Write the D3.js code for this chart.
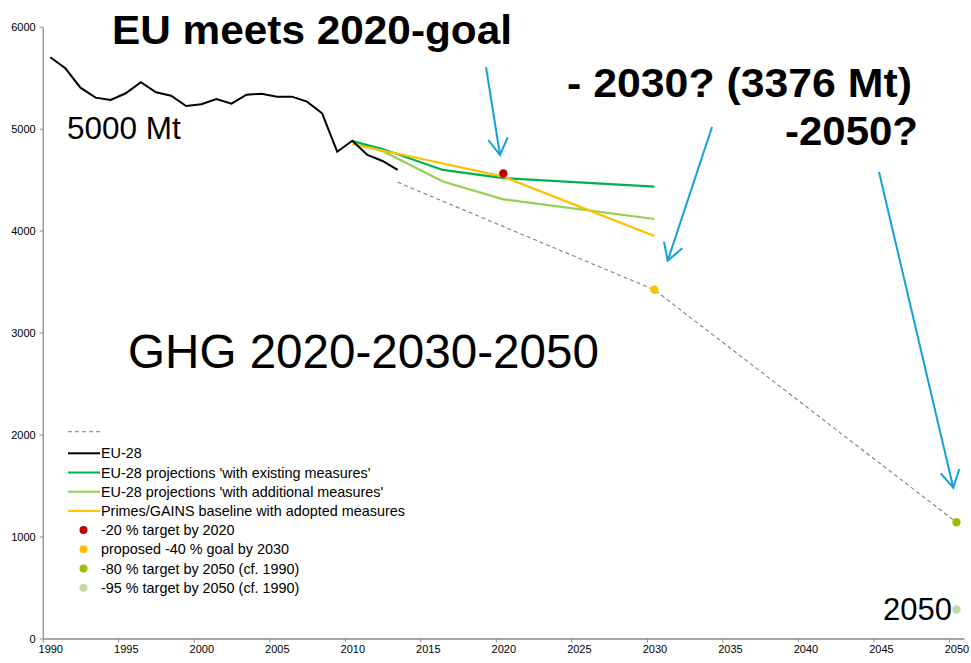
<!DOCTYPE html>
<html><head><meta charset="utf-8">
<script src="https://cdn.jsdelivr.net/npm/d3@7/dist/d3.min.js"></script>
<style>
html,body{margin:0;padding:0;background:#fff;}
svg{display:block;font-family:"Liberation Sans",Arial,sans-serif;}
</style></head>
<body>
<svg id="chart" width="971" height="663"></svg>
<script>
// ---- data ----
const histYears = [1990,1991,1992,1993,1994,1995,1996,1997,1998,1999,2000,2001,2002,2003,2004,2005,2006,2007,2008,2009,2010,2011,2012,2013];
const histValues = [5700,5592,5402,5304,5281,5347,5455,5357,5323,5222,5239,5291,5245,5333,5343,5314,5314,5265,5151,4774,4882,4742,4683,4595];

const wemYears = [2010,2012,2016,2020,2030];
const wemValues = [4879,4800,4595,4515,4431];

const wamYears = [2010,2012,2016,2020,2030];
const wamValues = [4879,4780,4482,4307,4114];

const primesYears = [2010,2015,2020,2025,2030];
const primesValues = [4849,4690,4529,4238,3947];

const pathYears = [2013,2030,2050];
const pathValues = [4474,3420,1140];

const targetYears = [2020,2030,2050,2050];
const targetValues = [4560,3420,1140,285];
const targetColors = ["#c00000","#ffc000","#99c000","#c4d9a0"];

const legendLabels = ["","EU-28","EU-28 projections 'with existing measures'","EU-28 projections 'with additional measures'","Primes/GAINS baseline with adopted measures","-20 % target by 2020","proposed -40 % goal by 2030","-80 % target by 2050 (cf. 1990)","-95 % target by 2050 (cf. 1990)"];
const legendKinds = ["dash","line","line","line","line","dot","dot","dot","dot"];
const legendColors = ["#808080","#000000","#00b050","#92d050","#ffc000","#c00000","#ffc000","#99c000","#c4d9a0"];

const xTickYears = [1990,1995,2000,2005,2010,2015,2020,2025,2030,2035,2040,2045,2050];
const yTickValues = [0,1000,2000,3000,4000,5000,6000];

// ---- scales ----
const svg = d3.select("#chart");
const x = d3.scaleLinear().domain([1990,2051]).range([42.7,964]);
const y = d3.scaleLinear().domain([0,6000]).range([638.5,26.7]);
const step = x(1991)-x(1990);
const xc = yr => x(yr+0.5);

// axes
const axisColor = "#8a8a8a";
const gx = svg.append("g").attr("transform",`translate(0,${y(0)})`)
  .call(d3.axisBottom(x).tickValues(xTickYears).tickFormat(d3.format("d")).tickSize(4).tickSizeOuter(0));
gx.select(".domain").attr("stroke",axisColor).attr("stroke-width",1.3);
gx.selectAll(".tick line").attr("stroke",axisColor);
gx.selectAll(".tick text").attr("x",step/2).attr("dy","0.71em").attr("y",7)
  .attr("font-size",11).attr("fill","#000").attr("font-family","Liberation Sans, Arial, sans-serif");

const gy = svg.append("g").attr("transform",`translate(${x(1990)},0)`)
  .call(d3.axisLeft(y).tickValues(yTickValues).tickFormat(d3.format("d")).tickSize(3).tickSizeOuter(0));
gy.select(".domain").attr("stroke",axisColor).attr("stroke-width",1.3);
gy.selectAll(".tick line").attr("stroke",axisColor);
gy.selectAll(".tick text").attr("x",-7)
  .attr("font-size",11).attr("fill","#000").attr("font-family","Liberation Sans, Arial, sans-serif");

const line = d3.line().x(d=>xc(d[0])).y(d=>y(d[1]));
const zip = (a,b)=>a.map((v,i)=>[v,b[i]]);

// dashed path
svg.append("path").datum(zip(pathYears,pathValues)).attr("d",line)
  .attr("fill","none").attr("stroke","#808080").attr("stroke-width",1.1).attr("stroke-dasharray","4,3");

svg.append("path").datum(zip(wamYears,wamValues)).attr("d",line)
  .attr("fill","none").attr("stroke","#92d050").attr("stroke-width",2.2).attr("stroke-linejoin","round");
svg.append("path").datum(zip(wemYears,wemValues)).attr("d",line)
  .attr("fill","none").attr("stroke","#00b050").attr("stroke-width",2.2).attr("stroke-linejoin","round");
svg.append("path").datum(zip(primesYears,primesValues)).attr("d",line)
  .attr("fill","none").attr("stroke","#ffc000").attr("stroke-width",2.2).attr("stroke-linejoin","round");
svg.append("path").datum(zip(histYears,histValues)).attr("d",line)
  .attr("fill","none").attr("stroke","#000").attr("stroke-width",2);

// target dots
svg.selectAll("circle.t").data(targetYears).join("circle").attr("class","t")
  .attr("cx",(d)=>xc(d)).attr("cy",(d,i)=>y(targetValues[i])).attr("r",4.2)
  .attr("fill",(d,i)=>targetColors[i]);

// legend
const lg = svg.append("g");
legendLabels.forEach((lab,i)=>{
  const ly = 431.7 + i*19.2 + (i>0?2.4:0);
  const k = legendKinds[i];
  if(k==="dash"){
    lg.append("line").attr("x1",68).attr("x2",102).attr("y1",ly).attr("y2",ly)
      .attr("stroke",legendColors[i]).attr("stroke-width",1).attr("stroke-dasharray","4,3");
  } else if(k==="line"){
    lg.append("line").attr("x1",68).attr("x2",100).attr("y1",ly).attr("y2",ly)
      .attr("stroke",legendColors[i]).attr("stroke-width",2);
  } else {
    lg.append("circle").attr("cx",83.5).attr("cy",ly).attr("r",4).attr("fill",legendColors[i]);
  }
  if(lab) lg.append("text").attr("x",101).attr("y",ly).attr("dy","0.35em")
    .attr("font-size",14.4).attr("fill","#000").text(lab);
});

// annotations
const ann = [
  {t:"EU meets 2020-goal", x:112, y:44, s:40, w:"bold", len:400},
  {t:"- 2030? (3376 Mt)", x:567, y:97, s:40, w:"bold", len:345},
  {t:"-2050?", x:785, y:145, s:40, w:"bold", len:133},
  {t:"5000 Mt", x:67, y:139, s:31.5, w:"normal", len:null},
  {t:"GHG 2020-2030-2050", x:128, y:368, s:47.6, w:"normal", len:null},
  {t:"2050", x:883, y:620, s:31, w:"normal", len:null}
];
ann.forEach(a=>{
  const t = svg.append("text").attr("x",a.x).attr("y",a.y).attr("font-size",a.s)
    .attr("font-weight",a.w).attr("fill","#000").text(a.t);
  if(a.len) t.attr("textLength",a.len).attr("lengthAdjust","spacingAndGlyphs");
});

// arrows
const arrows = [
  {x1:486,y1:67,x2:500,y2:155, a:[[488.3,140],[507.7,137.3]]},
  {x1:712,y1:127,x2:667.7,y2:260.7, a:[[664,241.7],[682.3,248.3]]},
  {x1:879,y1:172,x2:953.3,y2:487.7, a:[[940.7,473.3],[959.3,469]]}
];
const blue = "#14a0dc";
arrows.forEach(r=>{
  svg.append("line").attr("x1",r.x1).attr("y1",r.y1).attr("x2",r.x2).attr("y2",r.y2)
    .attr("stroke",blue).attr("stroke-width",2);
  svg.append("path").attr("d",`M${r.a[0][0]},${r.a[0][1]}L${r.x2},${r.y2}L${r.a[1][0]},${r.a[1][1]}`)
    .attr("fill","none").attr("stroke",blue).attr("stroke-width",2);
});
</script>
</body></html>
